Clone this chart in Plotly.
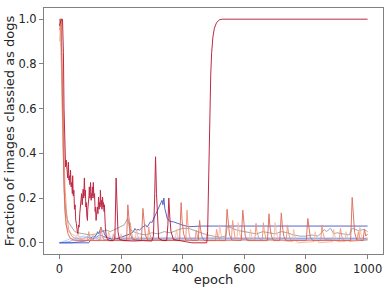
import plotly.graph_objects as go

# ---- data (epoch, fraction) ----
BLUE_DARK = [(0, 0.0), (60, 0.0), (95, 0.0), (100, 0.01), (105, 0.02), (110, 0.015), (115, 0.03), (120, 0.035),
             (124, 0.05), (128, 0.04), (132, 0.06), (135, 0.07), (139, 0.05), (143, 0.055), (146, 0.04), (150, 0.03),
             (155, 0.025), (162, 0.02), (170, 0.015), (180, 0.015), (190, 0.02), (200, 0.025), (210, 0.03),
             (220, 0.035), (230, 0.04), (240, 0.05), (245, 0.064), (250, 0.055), (255, 0.06), (260, 0.057),
             (265, 0.065), (270, 0.07), (275, 0.075), (280, 0.08), (285, 0.07), (290, 0.085), (295, 0.094),
             (300, 0.09), (305, 0.105), (310, 0.116), (315, 0.13), (320, 0.146), (325, 0.16), (330, 0.176),
             (333, 0.19), (336, 0.17), (339, 0.2), (342, 0.154), (346, 0.13), (350, 0.109), (355, 0.1),
             (360, 0.095), (370, 0.094), (385, 0.085), (400, 0.079), (420, 0.072), (440, 0.075), (460, 0.075),
             (480, 0.075), (1000, 0.075)]
BLUE_MID = [(0, 0.0), (40, 0.0), (70, 0.005), (90, 0.01), (100, 0.02), (110, 0.03), (120, 0.025), (130, 0.035),
            (140, 0.03), (150, 0.025), (160, 0.02), (175, 0.018), (190, 0.018), (210, 0.018), (1000, 0.018)]
BLUE_LIGHT = [(0, 0.0), (30, 0.005), (50, 0.015), (70, 0.02), (90, 0.025), (110, 0.02), (140, 0.012), (1000, 0.012)]
BLUE_PALE = [(0, 0.0), (20, 0.01), (40, 0.02), (60, 0.025), (80, 0.03), (100, 0.025), (1000, 0.022)]

GRAY = [(0, 1.0), (4, 0.95), (8, 0.7), (12, 0.4), (16, 0.22), (20, 0.15), (25, 0.11), (30, 0.09), (40, 0.07),
        (50, 0.05), (60, 0.045), (80, 0.04), (100, 0.035), (120, 0.04), (140, 0.05), (152, 0.057), (165, 0.05),
        (180, 0.06), (195, 0.072), (210, 0.08), (222, 0.11), (228, 0.06), (240, 0.05), (260, 0.04), (280, 0.035),
        (300, 0.045), (320, 0.04), (340, 0.05), (360, 0.045), (380, 0.055), (400, 0.065), (420, 0.064),
        (440, 0.055), (460, 0.045), (480, 0.035), (500, 0.03), (520, 0.025), (540, 0.03), (545, 0.075),
        (560, 0.065), (580, 0.055), (600, 0.05), (620, 0.045), (640, 0.04), (660, 0.05), (680, 0.045),
        (700, 0.04), (720, 0.05), (740, 0.045), (760, 0.035), (780, 0.03), (800, 0.03), (820, 0.035),
        (840, 0.03), (860, 0.06), (866, 0.05), (880, 0.065), (890, 0.04), (900, 0.045), (920, 0.04),
        (940, 0.035), (950, 0.065), (970, 0.055), (990, 0.06), (1000, 0.05)]

SALMON = [(0, 0.9), (5, 1.0), (9, 0.6), (13, 0.3), (17, 0.15), (22, 0.08), (30, 0.05), (40, 0.04), (52, 0.03),
          (57, 0.03), (60, 0.05), (63, 0.03), (70, 0.02), (106, 0.015), (110, 0.04), (114, 0.02), (156, 0.015),
          (160, 0.05), (164, 0.025), (172, 0.015), (196, 0.015), (200, 0.04), (205, 0.015), (246, 0.015),
          (250, 0.06), (254, 0.03), (262, 0.015), (376, 0.015), (380, 0.06), (384, 0.03), (392, 0.015),
          (476, 0.01), (480, 0.05), (484, 0.02), (516, 0.01), (520, 0.08), (524, 0.04), (532, 0.012),
          (576, 0.01), (580, 0.09), (584, 0.045), (592, 0.012), (616, 0.01), (620, 0.06), (624, 0.03),
          (632, 0.01), (696, 0.01), (700, 0.09), (704, 0.045), (712, 0.012), (756, 0.005), (760, 0.06),
          (764, 0.03), (772, 0.0), (826, 0.005), (830, 0.05), (834, 0.025), (842, 0.0), (886, 0.005),
          (890, 0.06), (894, 0.03), (902, 0.005), (926, 0.005), (930, 0.05), (934, 0.025), (942, 0.005),
          (971, 0.01), (975, 0.07), (979, 0.035), (987, 0.01), (1000, 0.02)]

ORANGE = [(0, 0.95), (6, 1.0), (10, 0.7), (14, 0.4), (18, 0.25), (24, 0.12), (30, 0.06), (40, 0.03), (50, 0.02),
          (70, 0.015), (91, 0.01), (95, 0.05), (98, 0.03), (104, 0.012), (131, 0.01), (135, 0.07), (138, 0.04),
          (144, 0.015), (171, 0.01), (175, 0.04), (180, 0.015), (226, 0.01), (230, 0.09), (233, 0.05),
          (239, 0.015), (286, 0.01), (290, 0.07), (293, 0.04), (299, 0.012), (410, 0.01), (414, 0.146),
          (417, 0.085), (422, 0.03), (430, 0.01), (440, 0.01), (444, 0.057), (448, 0.025), (455, 0.01),
          (506, 0.01), (510, 0.06), (514, 0.03), (520, 0.01), (558, 0.01), (562, 0.1), (565, 0.06), (570, 0.02),
          (634, 0.01), (638, 0.087), (641, 0.05), (647, 0.02), (658, 0.01), (662, 0.09), (665, 0.05),
          (671, 0.015), (736, 0.01), (740, 0.08), (744, 0.04), (750, 0.012), (848, 0.01), (852, 0.08),
          (855, 0.045), (861, 0.015), (908, 0.01), (912, 0.065), (916, 0.03), (922, 0.01), (966, 0.01),
          (970, 0.05), (974, 0.025), (980, 0.01), (1000, 0.015)]

RED_ORANGE = [(0, 1.0), (5, 1.0), (8, 0.8), (11, 0.5), (14, 0.3), (18, 0.15), (22, 0.08), (28, 0.04), (35, 0.02),
              (50, 0.01), (80, 0.01), (120, 0.008), (160, 0.01), (200, 0.01), (218, 0.01), (222, 0.17),
              (225, 0.1), (230, 0.04), (237, 0.015), (266, 0.01), (271, 0.154), (274, 0.09), (279, 0.035),
              (286, 0.012), (390, 0.01), (395, 0.18), (398, 0.1), (403, 0.04), (410, 0.012), (450, 0.01),
              (455, 0.1), (458, 0.06), (463, 0.025), (470, 0.01), (539, 0.01), (544, 0.15), (547, 0.09),
              (552, 0.035), (560, 0.012), (590, 0.01), (595, 0.146), (598, 0.085), (603, 0.03), (610, 0.01),
              (675, 0.01), (680, 0.13), (683, 0.075), (688, 0.03), (695, 0.01), (715, 0.01), (720, 0.134),
              (723, 0.08), (728, 0.03), (735, 0.01), (801, 0.01), (806, 0.109), (809, 0.065), (814, 0.025),
              (822, 0.01), (945, 0.01), (950, 0.203), (953, 0.12), (958, 0.045), (965, 0.012), (985, 0.01),
              (990, 0.06), (994, 0.03), (1000, 0.04)]

CRIMSON = [(0, 0.97), (6, 1.0), (10, 1.0), (13, 0.85), (15, 0.6), (18, 0.41), (20, 0.34), (22, 0.37), (24, 0.31),
           (25, 0.33), (27, 0.29), (29, 0.36), (31, 0.28), (32, 0.30), (34, 0.26), (36, 0.325), (38, 0.25),
           (40, 0.27), (42, 0.22), (43, 0.30), (45, 0.21), (47, 0.235), (49, 0.15), (51, 0.17), (53, 0.1),
           (55, 0.087), (58, 0.05), (60, 0.042), (62, 0.08), (64, 0.07), (66, 0.13), (68, 0.154), (70, 0.19),
           (72, 0.22), (74, 0.17), (77, 0.24), (79, 0.2), (81, 0.29), (83, 0.21), (84, 0.235), (86, 0.16),
           (87, 0.18), (89, 0.12), (91, 0.10), (92, 0.15), (94, 0.17), (96, 0.21), (97, 0.25), (99, 0.2),
           (101, 0.27), (103, 0.19), (104, 0.22), (106, 0.2), (107, 0.25), (109, 0.21), (110, 0.27), (112, 0.2),
           (114, 0.22), (116, 0.14), (117, 0.16), (119, 0.1), (120, 0.116), (122, 0.14), (123, 0.16),
           (125, 0.13), (127, 0.205), (129, 0.15), (130, 0.18), (132, 0.16), (133, 0.235), (135, 0.17),
           (136, 0.19), (138, 0.15), (140, 0.205), (142, 0.16), (143, 0.18), (145, 0.14), (146, 0.17),
           (149, 0.07), (152, 0.03), (156, 0.015), (165, 0.01), (175, 0.01),
           (180, 0.02), (184, 0.29), (187, 0.14), (190, 0.05), (195, 0.015), (210, 0.01), (240, 0.008),
           (270, 0.01), (300, 0.008), (305, 0.03), (309, 0.2), (312, 0.385), (315, 0.22), (318, 0.09),
           (322, 0.02), (335, 0.01), (348, 0.01), (352, 0.08), (355, 0.2), (358, 0.12), (362, 0.05),
           (370, 0.015), (385, 0.01), (410, 0.005), (430, 0.0), (460, 0.0), (478, 0.0), (481, 0.05),
           (483, 0.2), (485, 0.4), (488, 0.6), (491, 0.75), (494, 0.85), (498, 0.92), (503, 0.96),
           (510, 0.985), (520, 0.998), (530, 1.0), (1000, 1.0)]

SERIES = [
    (BLUE_PALE, "#b5cdfa"),
    (BLUE_LIGHT, "#8caffe"),
    (BLUE_MID, "#5b7be5"),
    (BLUE_DARK, "#3b4cc0"),
    (GRAY, "#9a9a9a"),
    (SALMON, "#f5b99e"),
    (ORANGE, "#f08b6e"),
    (RED_ORANGE, "#dc5e4b"),
    (CRIMSON, "#b40426"),
]

XTICKS = [0, 200, 400, 600, 800, 1000]
YTICKS = [0.0, 0.2, 0.4, 0.6, 0.8, 1.0]
YTICKTEXT = ["0.0", "0.2", "0.4", "0.6", "0.8", "1.0"]

fig = go.Figure()
for pts, color in SERIES:
    fig.add_trace(go.Scatter(
        x=[p[0] for p in pts], y=[p[1] for p in pts], mode="lines",
        line=dict(color=color, width=1), opacity=0.85, hoverinfo="skip"))

axis_common = dict(showline=True, mirror=True, linecolor="#808080", linewidth=1,
                   ticks="outside", ticklen=4, tickcolor="#808080", tickwidth=1,
                   showgrid=False, zeroline=False, automargin=False,
                   tickfont=dict(size=11.5))

fig.update_layout(
    width=391, height=292,
    margin=dict(l=44, r=8, t=8, b=38, pad=0),
    plot_bgcolor="white", paper_bgcolor="white",
    showlegend=False,
    font=dict(family="DejaVu Sans", size=11, color="#262626"),
    xaxis=dict(range=[-50, 1050], tickvals=XTICKS, title=dict(text="epoch", standoff=0), **axis_common),
    yaxis=dict(range=[-0.05, 1.05], tickvals=YTICKS, ticktext=YTICKTEXT,
               title=dict(text="Fraction of images classied as dogs", standoff=0), **axis_common),
)

fig.write_html("out.html", config={"displayModeBar": False},
               post_script="document.body.style.margin='0';document.body.style.overflow='hidden';")
